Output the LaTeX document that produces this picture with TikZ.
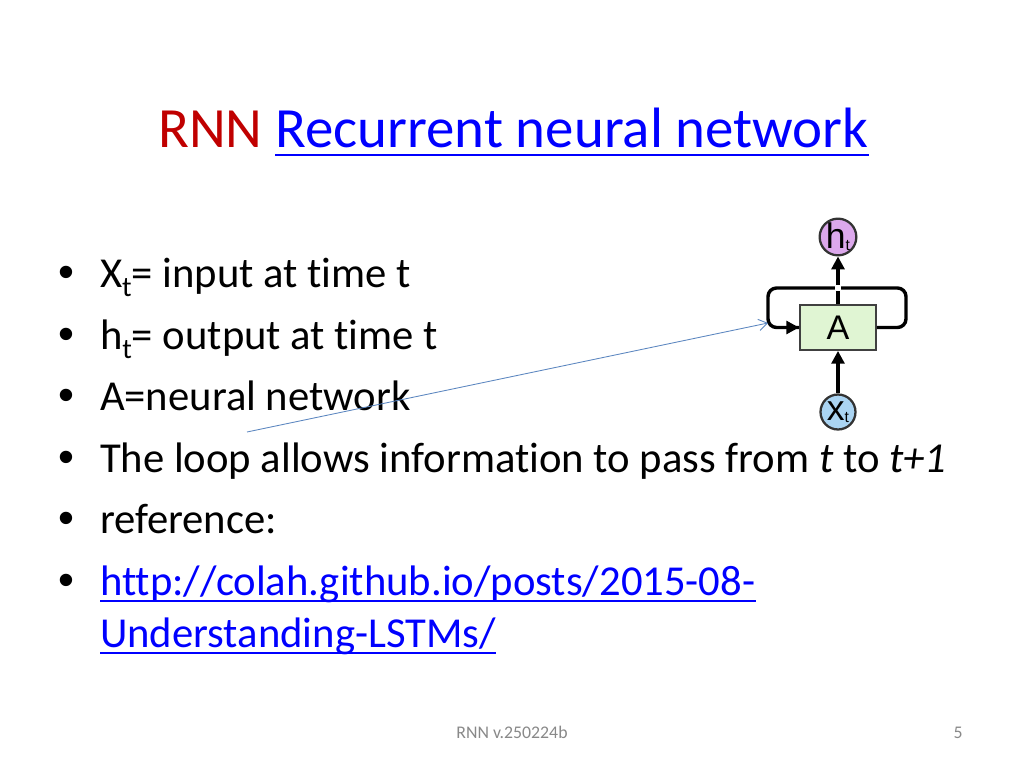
\documentclass[tikz,border=0pt]{standalone}
\usepackage{fontspec}
\setmainfont{Carlito}[Ligatures=NoCommon]
\newfontfamily\diagfont{Liberation Sans}
\newfontfamily\bulfont{Liberation Sans}
\usetikzlibrary{arrows.meta}
\definecolor{titlered}{HTML}{C00000}
\definecolor{linkblue}{HTML}{0000FF}
\definecolor{footgray}{HTML}{898989}
\definecolor{boxgreen}{HTML}{E0F5D3}
\definecolor{hpurple}{HTML}{DCA8EC}
\definecolor{xblue}{HTML}{AAD4F2}
\definecolor{pointer}{HTML}{5B86C0}
\newcommand{\sbt}{\raisebox{-0.22em}{\fontsize{20}{20}\selectfont t}}
\begin{document}
\begin{tikzpicture}[x=0.703125pt,y=-0.703125pt,
  txt/.style={anchor=base west,inner sep=0pt,outer sep=0pt,font=\fontsize{30}{32}\selectfont},
  bul/.style={anchor=base west,inner sep=0pt,font=\bulfont\fontsize{32}{34}\selectfont},
  circ/.style={circle,draw=black!80,line width=1.6pt,minimum size=24.6pt,inner sep=0pt,font=\diagfont\fontsize{25}{25}\selectfont},
  loopline/.style={line width=2.4pt,black,rounded corners=6pt},
  flow/.style={line width=2.4pt,black,-{Triangle[length=9pt,width=9pt]}}]
\useasboundingbox (0,0) rectangle (1024,768);
\fill[white] (0,0) rectangle (1024,768);
% title
\node[anchor=base west,inner sep=0pt,font=\fontsize{40}{44}\selectfont,text=titlered] (t1) at (158,148) {RNN};
\node[anchor=base west,inner sep=0pt,font=\fontsize{40}{44}\selectfont,text=linkblue] (t2) at (275,148) {Recurrent neural network};
\draw[linkblue,line width=1.6pt] ([yshift=-5pt]t2.base west) -- ([yshift=-5pt]t2.base east);
% bullets
\foreach \y/\n in {287/b1,349/b2,410/b3,472/b4,533/b5,595/b6}{
  \node[bul] (\n) at (58,\y) {•};
}
\node[txt] (l1) at (100,287) {X\sbt= input at time t};
\node[txt] (l2) at (100,349) {h\sbt= output at time t};
\node[txt] (l3) at (100,410) {A=neural network};
\node[txt] (l4) at (100,472) {The loop allows information to pass from \textit{t} to \textit{t+1}};
\node[txt] (l5) at (100,533) {reference:};
\node[txt,text=linkblue] (l6) at (100,595) {http://colah.github.io/posts/2015-08-};
\node[txt,text=linkblue] (l7) at (100,647) {Understanding-LSTMs/};
\draw[linkblue,line width=1.3pt] ([yshift=-4.5pt]l6.base west) -- ([yshift=-4.5pt]l6.base east);
\draw[linkblue,line width=1.3pt] ([yshift=-4.5pt]l7.base west) -- ([yshift=-4.5pt]l7.base east);
% footer
\node[anchor=base,inner sep=0pt,font=\fontsize{12.5}{14}\selectfont,text=footgray] (f1) at (512,738) {RNN v.250224b};
\node[anchor=base,inner sep=0pt,font=\fontsize{12.5}{14}\selectfont,text=footgray] (f2) at (958,738) {5};
% diagram
\node[draw=black!75,fill=boxgreen,line width=1.3pt,minimum width=53.4pt,minimum height=31.6pt,inner sep=0pt,font=\diagfont\fontsize{24}{24}\selectfont] (A) at (838,327.5) {A};
\node[circ,fill=hpurple] (h) at (838,237) {h\raisebox{-0.05em}{\fontsize{11}{11}\selectfont t}};
\node[circ,fill=xblue] (x) at (838,412) {x\raisebox{-0.05em}{\fontsize{11}{11}\selectfont t}};
\draw[flow] (x) -- (A);
\draw[flow] (A) -- (h);
\coordinate (lr1) at (906,327.5);
\coordinate (lr2) at (906,288);
\coordinate (ll2) at (768,288);
\coordinate (ll1) at (768,327.5);
\draw[loopline] (A.east) -- (lr1) -- (lr2) -- (ll2) -- (ll1) -- (A.west);
\draw[flow] ([xshift=-8pt]A.west) -- (A.west);
\fill[white] (835,285) rectangle (841,291);
\coordinate (ps) at (247,432);
\coordinate (pe) at (768,323);
\draw[pointer,line width=0.6pt,-{Straight Barb[length=6pt,width=8pt]}] (ps) -- (pe);
\end{tikzpicture}
\end{document}
